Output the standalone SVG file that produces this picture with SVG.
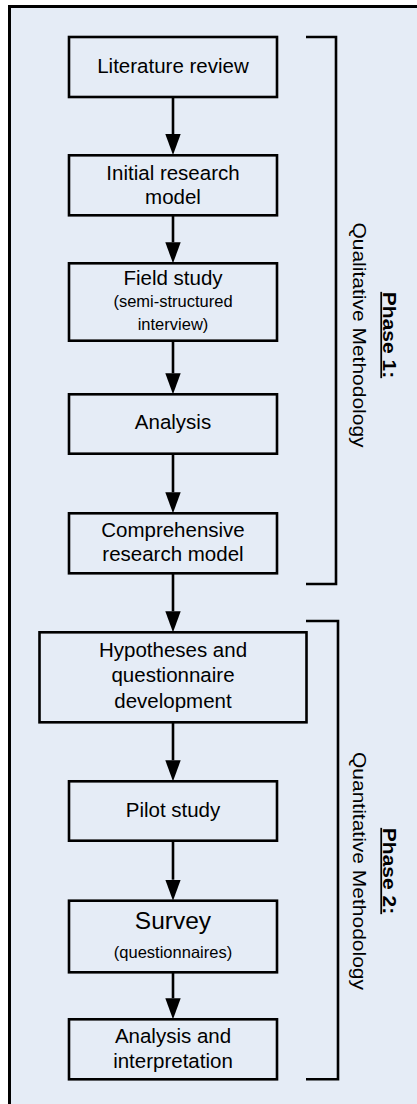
<svg xmlns="http://www.w3.org/2000/svg" width="417" height="1104" viewBox="0 0 417 1104">
  <style>
    .frame { fill: #E5ECF6; stroke: #000; stroke-width: 3; }
    .box { fill: #E5ECF6; stroke: #000; stroke-width: 2.6; }
    .lbl { font-family: "Liberation Sans", Arial, sans-serif; font-size: 20.5px; fill: #000; text-anchor: middle; }
    .sub { font-size: 16.5px; }
    .big { font-size: 24.5px; }
    .edge { fill: none; stroke: #000; stroke-width: 2.6; }
    .bracket { fill: none; stroke: #000; stroke-width: 2.6; }
    .phase { font-family: "Liberation Sans", Arial, sans-serif; font-size: 17.5px; fill: #000; text-anchor: middle; }
    .phase .hd { font-weight: bold; text-decoration: underline; }
  </style>
  <defs>
    <marker id="arrow" viewBox="0 0 21 15.4" refX="0" refY="7.7" markerWidth="21" markerHeight="15.4" markerUnits="userSpaceOnUse" orient="auto">
      <path d="M0,0 L21,7.7 L0,15.4 z" fill="#000"/>
    </marker>
  </defs>

  <rect width="417" height="1104" fill="#fff"/>
  <rect class="frame" x="9.5" y="6.5" width="420" height="1110"/>

  <!-- phase brackets -->
  <g id="phase1">
    <path class="bracket" d="M306,37 H336 V584 H306"/>
    <text class="phase" transform="translate(383,335) rotate(90) scale(1.2,1)"><tspan class="hd">Phase 1:</tspan></text>
    <text class="phase" transform="translate(353,335) rotate(90) scale(1.2,1)">Qualitative Methodology</text>
  </g>
  <g id="phase2">
    <path class="bracket" d="M306,621 H338 V1079.3 H306"/>
    <text class="phase" transform="translate(383,871) rotate(90) scale(1.2,1)"><tspan class="hd">Phase 2:</tspan></text>
    <text class="phase" transform="translate(353,871) rotate(90) scale(1.2,1)">Quantitative Methodology</text>
  </g>

  <!-- connectors -->
  <g id="connectors">
    <path class="edge" d="M173,97 V134" marker-end="url(#arrow)"/>
    <path class="edge" d="M173,215.3 V242.3" marker-end="url(#arrow)"/>
    <path class="edge" d="M173,340.7 V373.3" marker-end="url(#arrow)"/>
    <path class="edge" d="M173,453.7 V492.3" marker-end="url(#arrow)"/>
    <path class="edge" d="M173,573.3 V611.3" marker-end="url(#arrow)"/>
    <path class="edge" d="M173,722.3 V760.3" marker-end="url(#arrow)"/>
    <path class="edge" d="M173,840.7 V879.7" marker-end="url(#arrow)"/>
    <path class="edge" d="M173,972.3 V998.3" marker-end="url(#arrow)"/>
  </g>

  <!-- process steps -->
  <g id="literature-review">
    <rect class="box" x="69" y="37" width="208" height="60"/>
    <text class="lbl" x="173" y="73.3">Literature review</text>
  </g>
  <g id="initial-model">
    <rect class="box" x="69" y="155.3" width="208" height="60"/>
    <text class="lbl" x="173" y="180">Initial research</text>
    <text class="lbl" x="173" y="204">model</text>
  </g>
  <g id="field-study">
    <rect class="box" x="69" y="263.3" width="208" height="77.4"/>
    <text class="lbl" x="173" y="285">Field study</text>
    <text class="lbl sub" x="173" y="306.7">(semi-structured</text>
    <text class="lbl sub" x="173" y="330">interview)</text>
  </g>
  <g id="analysis">
    <rect class="box" x="69" y="394.3" width="208" height="59.4"/>
    <text class="lbl" x="173" y="429.3">Analysis</text>
  </g>
  <g id="comprehensive-model">
    <rect class="box" x="69" y="513.3" width="208" height="60"/>
    <text class="lbl" x="173" y="536.7">Comprehensive</text>
    <text class="lbl" x="173" y="561">research model</text>
  </g>
  <g id="hypotheses">
    <rect class="box" x="39.5" y="632.3" width="267" height="90"/>
    <text class="lbl" x="173" y="657.3">Hypotheses and</text>
    <text class="lbl" x="173" y="682.3">questionnaire</text>
    <text class="lbl" x="173" y="707.7">development</text>
  </g>
  <g id="pilot-study">
    <rect class="box" x="69" y="781.3" width="208" height="59.4"/>
    <text class="lbl" x="173" y="817.3">Pilot study</text>
  </g>
  <g id="survey">
    <rect class="box" x="69" y="900.7" width="208" height="71.6"/>
    <text class="lbl big" x="173" y="929">Survey</text>
    <text class="lbl sub" x="173" y="958.3">(questionnaires)</text>
  </g>
  <g id="analysis-interpretation">
    <rect class="box" x="69" y="1019.3" width="208" height="60"/>
    <text class="lbl" x="173" y="1043.3">Analysis and</text>
    <text class="lbl" x="173" y="1068.3">interpretation</text>
  </g>
</svg>
